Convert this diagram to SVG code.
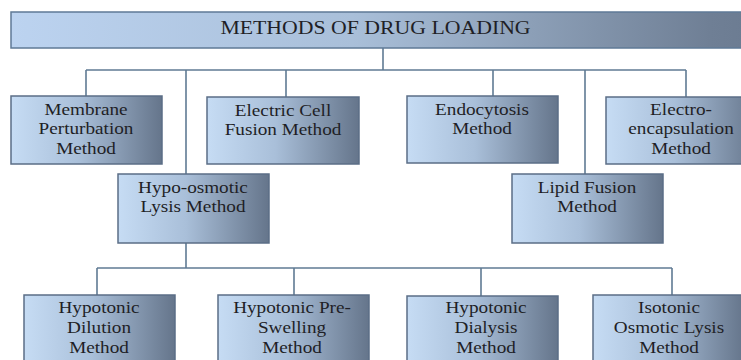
<svg xmlns="http://www.w3.org/2000/svg" width="741" height="360" viewBox="0 0 741 360">
  <defs>
    <linearGradient id="gBox" x1="0" y1="0" x2="1" y2="0">
      <stop offset="0" stop-color="#c6dcf4"/>
      <stop offset="0.45" stop-color="#a9bfd9"/>
      <stop offset="1" stop-color="#65758b"/>
    </linearGradient>
    <linearGradient id="gTop" x1="0" y1="0" x2="1" y2="0">
      <stop offset="0" stop-color="#bcd3f0"/>
      <stop offset="0.45" stop-color="#a9bfd9"/>
      <stop offset="0.92" stop-color="#6f7f95"/>
      <stop offset="1" stop-color="#6a7a90"/>
    </linearGradient>
    <style>
      rect.box { fill: url(#gBox); stroke: #5b6e86; stroke-width: 1.5; }
      rect.top { fill: url(#gTop); stroke: #5f7a96; stroke-width: 1.5; }
      text { font-family: "Liberation Serif", "Times New Roman", serif; font-size: 16px; fill: #1f1f26; text-anchor: middle; }
      text.title { font-size: 18px; }
      .conn path { fill: none; stroke: #5f7a93; stroke-width: 1.6; }
    </style>
  </defs>
  <rect width="741" height="360" fill="#ffffff"/>

  <g class="conn" id="connectors">
    <path d="M383 48 V70"/>
    <path d="M86 70 H686"/>
    <path d="M86 70 V96"/>
    <path d="M186 70 V174"/>
    <path d="M286 70 V97"/>
    <path d="M493 70 V96"/>
    <path d="M585 70 V174"/>
    <path d="M686 70 V97"/>
    <path d="M186 243 V268"/>
    <path d="M97 268 H672"/>
    <path d="M97 268 V295"/>
    <path d="M294 268 V295"/>
    <path d="M481 268 V296"/>
    <path d="M672 268 V295"/>
  </g>

  <g id="root">
    <rect class="top" x="11" y="12" width="760" height="36"/>
    <text class="title" transform="translate(375.5,34) scale(1.21,1)">METHODS  OF DRUG LOADING</text>
  </g>

  <g id="membrane">
    <rect class="box" x="11" y="96" width="151" height="68"/>
    <text transform="translate(86,115) scale(1.2,1)"><tspan x="0">Membrane</tspan><tspan x="0" dy="19.5">Perturbation</tspan><tspan x="0" dy="19.5">Method</tspan></text>
  </g>

  <g id="electric-cell">
    <rect class="box" x="207" y="97" width="152" height="67"/>
    <text transform="translate(283,116) scale(1.2,1)"><tspan x="0">Electric Cell</tspan><tspan x="0" dy="19.5">Fusion Method</tspan></text>
  </g>

  <g id="hypo-osmotic">
    <rect class="box" x="118" y="174" width="151" height="69"/>
    <text transform="translate(193,193) scale(1.2,1)"><tspan x="0">Hypo-osmotic</tspan><tspan x="0" dy="19.5">Lysis Method</tspan></text>
  </g>

  <g id="endocytosis">
    <rect class="box" x="407" y="96" width="151" height="67"/>
    <text transform="translate(482,115) scale(1.2,1)"><tspan x="0">Endocytosis</tspan><tspan x="0" dy="19.5">Method</tspan></text>
  </g>

  <g id="electro-encapsulation">
    <rect class="box" x="606" y="97" width="152" height="67"/>
    <text transform="translate(681,115) scale(1.2,1)"><tspan x="0">Electro-</tspan><tspan x="0" dy="19.5">encapsulation</tspan><tspan x="0" dy="19.5">Method</tspan></text>
  </g>

  <g id="lipid-fusion">
    <rect class="box" x="512" y="174" width="151" height="69"/>
    <text transform="translate(587,193) scale(1.2,1)"><tspan x="0">Lipid Fusion</tspan><tspan x="0" dy="19.5">Method</tspan></text>
  </g>

  <g id="hypotonic-dilution">
    <rect class="box" x="24" y="295" width="151" height="72"/>
    <text transform="translate(99,313) scale(1.2,1)"><tspan x="0">Hypotonic</tspan><tspan x="0" dy="20">Dilution</tspan><tspan x="0" dy="20">Method</tspan></text>
  </g>

  <g id="hypotonic-preswelling">
    <rect class="box" x="218" y="295" width="151" height="72"/>
    <text transform="translate(292,313) scale(1.2,1)"><tspan x="0">Hypotonic Pre-</tspan><tspan x="0" dy="20">Swelling</tspan><tspan x="0" dy="20">Method</tspan></text>
  </g>

  <g id="hypotonic-dialysis">
    <rect class="box" x="407" y="296" width="151" height="72"/>
    <text transform="translate(486,313) scale(1.2,1)"><tspan x="0">Hypotonic</tspan><tspan x="0" dy="20">Dialysis</tspan><tspan x="0" dy="20">Method</tspan></text>
  </g>

  <g id="isotonic-osmotic-lysis">
    <rect class="box" x="593" y="295" width="151" height="72"/>
    <text transform="translate(669,313) scale(1.2,1)"><tspan x="0">Isotonic</tspan><tspan x="0" dy="20">Osmotic Lysis</tspan><tspan x="0" dy="20">Method</tspan></text>
  </g>
</svg>
